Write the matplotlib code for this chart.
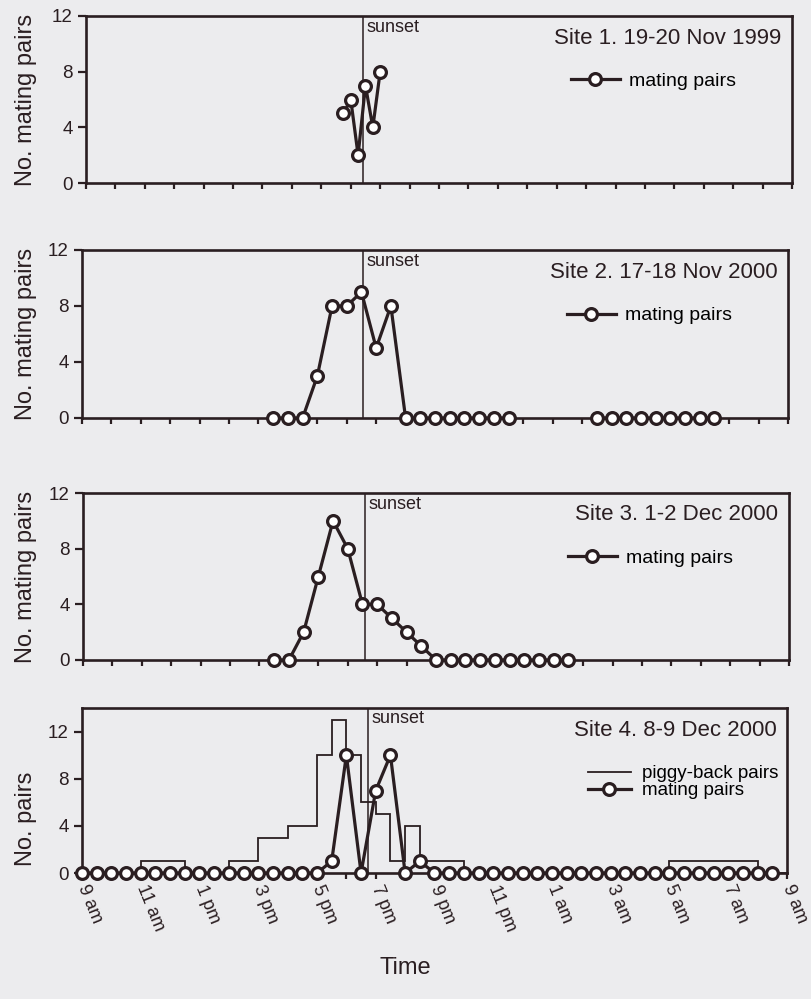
import numpy as np
import matplotlib.pyplot as plt

plt.rcParams['font.family'] = ['Liberation Sans', 'DejaVu Sans']

INK = '#2a1e21'
BG = '#ececee'

# clock hours, values above 24 are the next morning
hour_ticks = np.arange(9, 34, 1)
hour_labels = ['9 am', '11 am', '1 pm', '3 pm', '5 pm', '7 pm', '9 pm',
               '11 pm', '1 am', '3 am', '5 am', '7 am', '9 am']

site_titles = ['Site 1. 19-20 Nov 1999', 'Site 2. 17-18 Nov 2000',
               'Site 3. 1-2 Dec 2000', 'Site 4. 8-9 Dec 2000']
sunset_hour = [18.4, 18.55, 18.6, 18.73]

# Site 1 - only counted around sunset
site1_time = [17.75, 18.0, 18.25, 18.5, 18.75, 19.0]
site1_mating = [5, 6, 2, 7, 4, 8]

# Site 2 - evening run, gap, early morning run
site2_time = list(np.arange(15.5, 24.0, 0.5)) + [np.nan] + list(np.arange(26.5, 31.0, 0.5))
site2_mating = [0, 0, 0, 3, 8, 8, 9, 5, 8, 0, 0, 0, 0, 0, 0, 0, 0,
                np.nan,
                0, 0, 0, 0, 0, 0, 0, 0, 0]

# Site 3
site3_time = np.arange(15.5, 26.0, 0.5)
site3_mating = [0, 0, 2, 6, 10, 8, 4, 4, 3, 2, 1,
                0, 0, 0, 0, 0, 0, 0, 0, 0, 0]

# Site 4 - full 24 h, half hourly
site4_time = np.arange(9.0, 33.0, 0.5)
site4_mating = [0, 0, 0, 0, 0, 0, 0, 0, 0, 0, 0, 0, 0, 0, 0, 0, 0,
                1, 10, 0, 7, 10, 0, 1,
                0, 0, 0, 0, 0, 0, 0, 0, 0, 0, 0, 0, 0, 0, 0, 0, 0, 0, 0, 0, 0, 0, 0, 0]
piggy_edges = np.arange(9.0, 33.5, 0.5)
piggy_back = [0, 0, 0, 0, 1, 1, 1, 0, 0, 0, 1, 1, 3, 3, 4, 4,
              10, 13, 10, 6, 5, 1, 4, 1, 1, 1,
              0, 0, 0, 0, 0, 0, 0, 0, 0, 0, 0, 0, 0, 0,
              1, 1, 1, 1, 1, 1, 0, 0]

series_time = [site1_time, site2_time, site3_time, site4_time]
series_mating = [site1_mating, site2_mating, site3_mating, site4_mating]

W, H = 812, 999
# axes boxes in pixels: left, top, right, bottom
boxes = [(86, 16, 792, 183), (82, 250, 788, 418), (83, 493, 789, 660), (82, 708, 787, 873)]

fig = plt.figure(figsize=(W / 100, H / 100), dpi=100, facecolor=BG)

for k in range(4):
    l, t, r, b = boxes[k]
    ax = fig.add_axes([l / W, 1 - b / H, (r - l) / W, (b - t) / H])
    ax.set_facecolor(BG)

    ax.axvline(sunset_hour[k], color=INK, lw=1.1, zorder=1)
    ax.text(sunset_hour[k] + 0.12, 0.985, 'sunset', transform=ax.get_xaxis_transform(),
            ha='left', va='top', fontsize=13, color=INK)

    if k == 3:
        ax.stairs(piggy_back, piggy_edges, color=INK, lw=1.3, zorder=2,
                  label='piggy-back pairs')

    ax.plot(series_time[k], series_mating[k], '-o', color=INK, lw=2.3,
            ms=8.5, mfc='white', mec=INK, mew=2.3, clip_on=False, zorder=3,
            label='mating pairs')

    ax.text(0.985, 1 - 22 / (b - t), site_titles[k], transform=ax.transAxes,
            ha='right', va='center', fontsize=16, color=INK)

    if k == 3:
        ax.set_ylim(0, 14)
        ax.legend(loc='center right', bbox_to_anchor=(0.988, 0.55), frameon=False,
                  fontsize=13.5, handlelength=2.3, handletextpad=0.6,
                  labelspacing=0.0, borderpad=0, borderaxespad=0)
        ax.set_ylabel('No. pairs', fontsize=17, color=INK)
        ax.yaxis.set_label_coords((37 - l) / (r - l), 0.33)
    else:
        ax.set_ylim(0, 12)
        ax.legend(loc='center right', bbox_to_anchor=(0.921, 0.61), frameon=False,
                  fontsize=14, handlelength=2.5, handletextpad=0.5,
                  borderpad=0, borderaxespad=0)
        ax.set_ylabel('No. mating pairs', fontsize=17, color=INK)
        ax.yaxis.set_label_coords((37 - l) / (r - l), 0.5)

    ax.set_xlim(9, 33)
    ax.set_yticks([0, 4, 8, 12])
    ax.set_xticks(hour_ticks)
    if k == 3:
        labels = ['' for h in hour_ticks]
        labels[::2] = hour_labels
        ax.set_xticklabels(labels, rotation=-68, ha='left', va='center',
                           rotation_mode='anchor', fontsize=13, color=INK)
    else:
        ax.set_xticklabels([])

    for side in ['left', 'right', 'top', 'bottom']:
        ax.spines[side].set_linewidth(1.9)
        ax.spines[side].set_color(INK)
    ax.tick_params(axis='x', length=4, width=1.6, color=INK, pad=5)
    ax.tick_params(axis='y', length=5.5, width=1.6, color=INK, pad=4,
                   labelsize=13.5, labelcolor=INK)

fig.text(405 / W, 1 - 968 / H, 'Time', ha='center', va='center', fontsize=17, color=INK)

fig.savefig('out.png', dpi=100, facecolor=BG)
